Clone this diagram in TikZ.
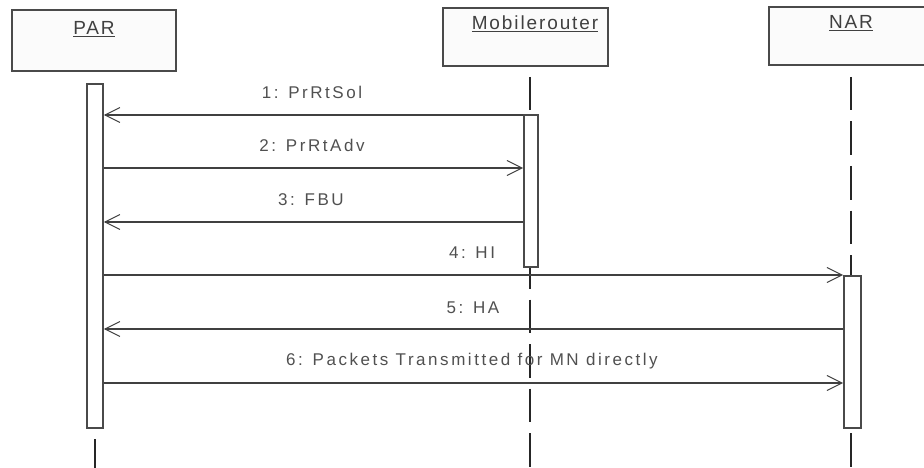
\documentclass[tikz,border=0pt]{standalone}
\usepackage{fontspec}
\setmainfont{Liberation Sans}
\newfontfamily\lblfont[LetterSpace=15]{Liberation Sans}
\newfontfamily\hdrfont[LetterSpace=10]{Liberation Sans}
\usetikzlibrary{arrows.meta}
\definecolor{edge}{HTML}{4A4A4A}
\definecolor{txt}{HTML}{505050}
\definecolor{boxfill}{HTML}{FBFBFB}
\begin{document}
\begin{tikzpicture}[x=1pt,y=-1pt,
  objbox/.style={draw=edge,fill=boxfill,line width=2pt},
  actbar/.style={draw=edge,fill=white,line width=1.8pt},
  lifeline/.style={draw=black!85,line width=2.2pt,dash pattern=on 33.5pt off 11pt},
  msg/.style={draw=black!75,line width=1.3pt,-{Straight Barb[length=15pt,width=15pt,line width=1pt]}},
  msglbl/.style={text=txt,font=\lblfont\fontsize{17}{20}\selectfont,inner sep=0pt,anchor=center},
  hdr/.style={text=black!75,font=\hdrfont\fontsize{19}{22}\selectfont,inner sep=0pt,anchor=center}
]
\useasboundingbox (0,0) rectangle (924,468);
% object boxes
\draw[objbox] (12,10) rectangle (176,71);
\draw[objbox] (443,8) rectangle (608,66);
\draw[objbox] (769,7) rectangle (934,65);
\node[hdr] (parlbl) at (94,29) {\underline{PAR}};
\node[hdr] (mrlbl) at (535,24) {\underline{Mobilerouter}};
\node[hdr] (narlbl) at (851,23) {\underline{NAR}};
% lifelines
\coordinate (parTop) at (95,83);
\coordinate (parBot) at (95,468);
\coordinate (mrTop) at (530,77);
\coordinate (mrBot) at (530,468);
\coordinate (narTop) at (851,77);
\coordinate (narBot) at (851,468);
\draw[lifeline] (parTop) -- (parBot);
\draw[lifeline] (mrTop) -- (mrBot);
\draw[lifeline] (narTop) -- (narBot);
% activation bars
\node[actbar,minimum width=16pt,minimum height=344pt,inner sep=0pt,anchor=north west] (parbar) at (86,83) {};
\node[actbar,minimum width=14pt,minimum height=152pt,inner sep=0pt,anchor=north west] (mrbar) at (523,114) {};
\node[actbar,minimum width=17pt,minimum height=152pt,inner sep=0pt,anchor=north west] (narbar) at (843,275) {};
% messages
\draw[msg] (mrbar.west |- 0,115) -- (parbar.east |- 0,115);
\draw[msg] (parbar.east |- 0,168) -- (mrbar.west |- 0,168);
\draw[msg] (mrbar.west |- 0,222) -- (parbar.east |- 0,222);
\draw[msg,line width=2pt] (parbar.east |- 0,275) -- (narbar.west |- 0,275);
\draw[msg] (narbar.west |- 0,329) -- (parbar.east |- 0,329);
\draw[msg,line width=1.1pt] (parbar.east |- 0,383) -- (narbar.west |- 0,383);
% labels
\node[msglbl] (m1) at (312,92) {1: PrRtSol};
\node[msglbl] (m2) at (312,145) {2: PrRtAdv};
\node[msglbl] (m3) at (311,200) {3: FBU};
\node[msglbl] (m4) at (472,253) {4: HI};
\node[msglbl] (m5) at (473,308) {5: HA};
\node[msglbl] (m6) at (472,361) {6: Packets Transmitted for MN directly};
\end{tikzpicture}
\end{document}
